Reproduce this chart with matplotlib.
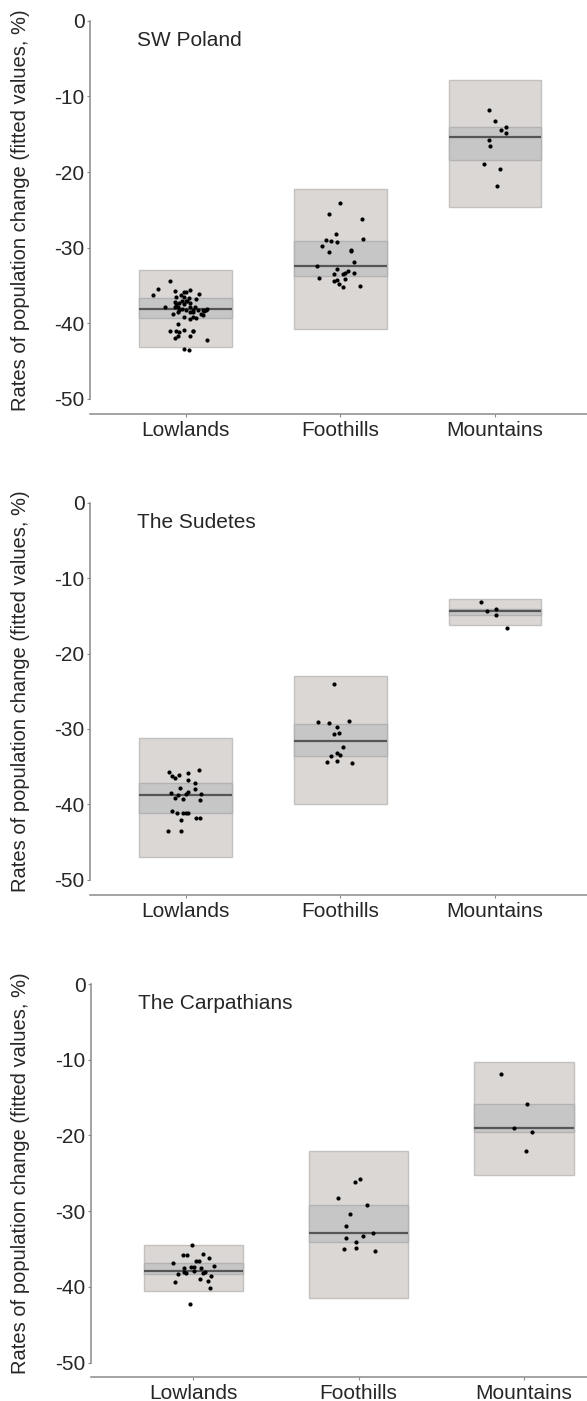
import matplotlib
matplotlib.use("Agg")
import matplotlib.pyplot as plt

plt.rcParams['font.family'] = ['Liberation Sans', 'DejaVu Sans']

categories = ["Lowlands", "Foothills", "Mountains"]
regions = ["SW Poland", "The Sudetes", "The Carpathians"]

# SW Poland
sw_range_top = [-33.0, -22.2, -7.9]
sw_range_bottom = [-43.1, -40.8, -24.6]
sw_ci_top = [-36.7, -29.1, -14.1]
sw_ci_bottom = [-39.3, -33.8, -18.4]
sw_mean = [-38.1, -32.4, -15.4]

sw_low_vals = [-34.4, -35.4, -36.2, -35.7, -35.8, -35.8, -35.6, -36.1, -36.2, -36.5,
               -36.5, -36.6, -36.8, -37.2, -37.3, -37.1, -37.0, -37.1, -37.3, -37.5,
               -37.5, -37.8, -37.9, -37.9, -37.9, -37.9, -38.3, -38.1, -38.2, -38.2,
               -38.2, -38.3, -38.3, -38.1, -38.7, -38.5, -38.5, -38.5, -38.7, -38.4,
               -39.2, -39.4, -39.1, -39.3, -38.9, -40.1, -41.0, -41.0, -41.1, -40.9,
               -41.0, -41.0, -42.0, -41.7, -41.7, -42.2, -43.4, -43.5]
sw_low_jit = [-0.10, -0.18, -0.21, -0.07, -0.01, 0.00, 0.03, 0.09, -0.03, -0.06,
              -0.01, 0.02, 0.07, -0.07, -0.04, -0.02, 0.00, 0.01, 0.03, -0.06,
              -0.01, -0.07, -0.05, -0.13, 0.03, 0.06, -0.04, -0.02, 0.00, 0.05,
              0.08, 0.11, 0.13, 0.14, -0.08, -0.05, 0.03, 0.05, 0.10, 0.12,
              -0.01, 0.03, 0.05, 0.07, 0.11, -0.05, -0.10, -0.06, -0.04, -0.01,
              0.05, 0.05, -0.07, -0.05, 0.03, 0.14, -0.01, 0.02]
sw_foot_vals = [-24.05, -25.6, -26.2, -28.2, -29.0, -29.1, -29.2, -28.9, -29.8, -30.6,
                -30.3, -30.5, -31.9, -32.4, -32.8, -33.5, -33.5, -33.4, -33.1, -33.3,
                -34.0, -34.4, -34.3, -34.1, -34.8, -35.2, -35.0]
sw_foot_jit = [0.00, -0.07, 0.14, -0.03, -0.09, -0.06, -0.02, 0.15, -0.12, -0.07,
               0.07, 0.07, 0.09, -0.15, -0.02, -0.04, 0.02, 0.03, 0.05, 0.09,
               -0.14, -0.04, -0.02, 0.03, -0.01, 0.02, 0.13]
sw_mount_vals = [-11.8, -13.2, -14.4, -14.1, -14.9, -15.8, -16.6, -18.9, -19.6, -21.9]
sw_mount_jit = [-0.04, 0.00, 0.04, 0.07, 0.07, -0.04, -0.03, -0.07, 0.03, 0.01]

# The Sudetes
sud_range_top = [-31.2, -23.0, -12.8]
sud_range_bottom = [-47.0, -39.9, -16.2]
sud_ci_top = [-37.2, -29.4, -14.1]
sud_ci_bottom = [-41.1, -33.6, -14.95]
sud_mean = [-38.8, -31.6, -14.4]

sud_low_vals = [-35.7, -35.4, -36.3, -36.5, -36.1, -35.9, -36.8, -37.2, -37.9, -38.0,
                -38.5, -38.6, -38.8, -38.6, -38.4, -39.2, -39.3, -39.4, -40.9, -41.2,
                -41.1, -41.1, -41.1, -41.8, -41.8, -42.1, -43.6, -43.5]
sud_low_jit = [-0.105, 0.088, -0.088, -0.069, -0.045, 0.016, 0.018, 0.064, -0.037, 0.059,
               -0.091, 0.103, -0.050, 0.00, 0.016, -0.071, -0.016, 0.091, -0.088, -0.054,
               -0.016, 0.00, 0.016, 0.071, 0.091, -0.028, -0.110, -0.028]
sud_foot_vals = [-24.1, -29.1, -29.2, -28.9, -29.8, -30.7, -30.5, -32.4, -33.6, -33.2,
                 -33.5, -34.4, -34.2, -34.5]
sud_foot_jit = [-0.04, -0.146, -0.074, 0.059, -0.02, -0.042, -0.006, 0.018, -0.059, -0.02,
                0.001, -0.083, -0.02, 0.074]
sud_mount_vals = [-13.2, -14.4, -14.1, -14.9, -16.6]
sud_mount_jit = [-0.088, -0.052, 0.004, 0.004, 0.078]

# The Carpathians
carp_range_top = [-34.4, -22.0, -10.3]
carp_range_bottom = [-40.5, -41.4, -25.2]
carp_ci_top = [-36.8, -29.2, -15.9]
carp_ci_bottom = [-38.3, -34.1, -19.6]
carp_mean = [-37.9, -32.9, -19.0]

carp_low_vals = [-34.4, -35.8, -35.8, -35.6, -36.2, -36.8, -36.6, -36.6, -37.2, -37.3,
                 -37.3, -37.5, -37.5, -38.3, -38.0, -38.1, -37.9, -38.1, -38.0, -38.5,
                 -38.9, -39.4, -39.2, -40.2, -42.3]
carp_low_jit = [-0.01, -0.06, -0.04, 0.057, 0.093, -0.125, 0.016, 0.032, 0.125, -0.011,
                0.005, 0.048, -0.059, -0.093, -0.059, -0.043, 0.005, 0.057, 0.073, 0.107,
                0.039, -0.111, 0.088, 0.104, -0.02]
carp_foot_vals = [-25.7, -26.2, -28.3, -29.2, -30.4, -31.9, -32.9, -33.6, -33.3, -34.1,
                  -35.0, -34.9, -35.2]
carp_foot_jit = [0.007, -0.02, -0.122, 0.052, -0.052, -0.077, 0.086, -0.079, 0.027, -0.018,
                 -0.091, -0.016, 0.10]
carp_mount_vals = [-11.9, -15.8, -19.0, -19.6, -22.0]
carp_mount_jit = [-0.139, 0.019, -0.06, 0.049, 0.012]

W, H = 587, 1401
OUTER_FILL, OUTER_EDGE = "#dad7d5", "#c3c0be"
CI_FILL, CI_EDGE = "#c6c6c6", "#b2b2b2"
TEXT = "#262626"
SPINE = "#8a8a8a"


def draw_panel(fig, geom, title, tops, bottoms, ci_tops, ci_bottoms, means, pts):
    left_px, right_px, cat1_px, spacing, zero_px, fifty_px, axis_px, top_px = geom
    ppu = (fifty_px - zero_px) / 50.0
    ylo = -(axis_px - zero_px) / ppu
    yhi = (zero_px - top_px) / ppu
    xlo = 1 - (cat1_px - left_px) / spacing
    xhi = 1 + (right_px - cat1_px) / spacing
    ax = fig.add_axes([left_px / W, 1 - axis_px / H,
                       (right_px - left_px) / W, (axis_px - top_px) / H])
    xs = [1, 2, 3]
    heights = [t - b for t, b in zip(tops, bottoms)]
    ax.bar(xs, heights, bottom=bottoms, width=0.6, color=OUTER_FILL,
           edgecolor=OUTER_EDGE, linewidth=1.0, zorder=1)
    ci_h = [t - b for t, b in zip(ci_tops, ci_bottoms)]
    ax.bar(xs, ci_h, bottom=ci_bottoms, width=0.6, color=CI_FILL,
           edgecolor=CI_EDGE, linewidth=1.0, zorder=2)
    ax.hlines(means, [x - 0.3 for x in xs], [x + 0.3 for x in xs],
              colors="#555555", linewidth=1.6, zorder=3)
    for x, (jit, vals) in zip(xs, pts):
        ax.plot([x + j for j in jit], vals, 'o', color="black",
                markersize=3.0, markeredgewidth=0, zorder=4)
    ax.set_xlim(xlo, xhi)
    ax.set_ylim(ylo, yhi)
    ax.set_yticks([0, -10, -20, -30, -40, -50])
    ax.set_yticklabels(["0", "-10", "-20", "-30", "-40", "-50"])
    ax.set_xticks(xs)
    ax.set_xticklabels(categories)
    ax.tick_params(axis='y', length=2, width=0.8, color=SPINE, pad=2,
                   labelsize=15, labelcolor=TEXT)
    ax.tick_params(axis='x', length=2, width=0.8, color=SPINE, pad=3,
                   labelsize=15, labelcolor=TEXT)
    for s in ["top", "right"]:
        ax.spines[s].set_visible(False)
    ax.spines["left"].set_bounds(-50, 0)
    for s in ["left", "bottom"]:
        ax.spines[s].set_color(SPINE)
        ax.spines[s].set_linewidth(1.1)
    ax.set_facecolor("none")
    ax.text(xlo + (cat1_px - spacing * (1 - xlo) + 47 - left_px) / spacing, -2.6,
            title, fontsize=15, color=TEXT, ha="left", va="center")
    ax.set_ylabel("Rates of population change (fitted values, %)",
                  fontsize=14.5, color=TEXT)
    ax.yaxis.set_label_coords((30 - left_px) / (right_px - left_px),
                              (-25 - ylo) / (yhi - ylo))
    return ax


fig = plt.figure(figsize=(W / 100, H / 100), dpi=100)

# left, right, first category, spacing, y of 0, y of -50, x-axis y, top (pixels)
geoms = [
    (90, 587, 185.5, 154.75, 20.7, 399.0, 414.0, 3.0),
    (90, 587, 185.5, 154.75, 502.7, 879.7, 895.0, 485.0),
    (91, 587, 193.3, 165.35, 984.0, 1362.7, 1377.3, 966.0),
]

draw_panel(fig, geoms[0], regions[0], sw_range_top, sw_range_bottom, sw_ci_top,
           sw_ci_bottom, sw_mean,
           [(sw_low_jit, sw_low_vals), (sw_foot_jit, sw_foot_vals),
            (sw_mount_jit, sw_mount_vals)])
draw_panel(fig, geoms[1], regions[1], sud_range_top, sud_range_bottom, sud_ci_top,
           sud_ci_bottom, sud_mean,
           [(sud_low_jit, sud_low_vals), (sud_foot_jit, sud_foot_vals),
            (sud_mount_jit, sud_mount_vals)])
draw_panel(fig, geoms[2], regions[2], carp_range_top, carp_range_bottom, carp_ci_top,
           carp_ci_bottom, carp_mean,
           [(carp_low_jit, carp_low_vals), (carp_foot_jit, carp_foot_vals),
            (carp_mount_jit, carp_mount_vals)])

fig.savefig("out.png", dpi=100)
